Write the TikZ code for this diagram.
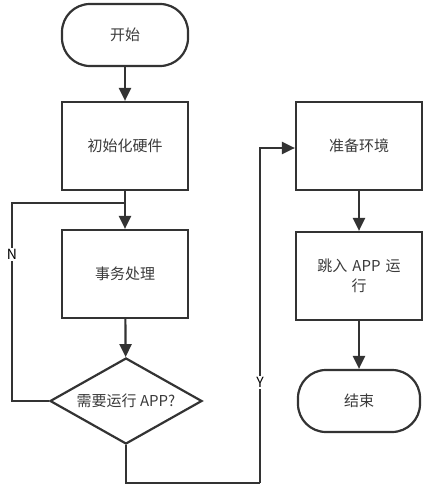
\documentclass[tikz,border=0pt]{standalone}
\usepackage{fontspec}
\setmainfont{Noto Sans CJK SC}
\usetikzlibrary{shapes.geometric,arrows.meta}
\definecolor{ln}{HTML}{333333}
\definecolor{tx}{HTML}{3a3a3a}
\begin{document}
\begin{tikzpicture}[x=1pt,y=-1pt,
  every node/.style={font=\fontsize{15}{20}\selectfont, text=tx},
  box/.style={draw=ln, line width=2.2pt, minimum width=126pt, minimum height=88pt, inner sep=0pt},
  term/.style={draw=ln, line width=2.2pt, rounded corners=28pt, minimum width=126pt, minimum height=62pt, inner sep=0pt},
  dec/.style={draw=ln, line width=2.2pt, diamond, aspect=1.767, minimum width=152pt, minimum height=86pt, inner sep=0pt},
  conn/.style={draw=ln, line width=2.2pt, -{Triangle[length=13pt,width=12pt]}},
  plain/.style={draw=ln, line width=2.2pt},
  lab/.style={fill=white, inner sep=1pt, text=black, font=\fontsize{14}{16}\selectfont}
]
\useasboundingbox (0,0) rectangle (433,495);
\node[term] (start) at (125,35) {开始};
\node[box] (init) at (125,146) {初始化硬件};
\node[box] (work) at (125,274) {事务处理};
\node[dec] (q) at (126,401) {需要运行 APP?};
\node[box] (prep) at (359,146) {准备环境};
\node[box, text width=100pt, align=center] (jump) at (359,276) {跳入 APP 运\\行};
\node[term, minimum width=122pt] (end) at (359,401) {结束};
\coordinate (j) at (125,203);
\coordinate (nl) at (12,401);
\coordinate (nu) at (12,203);
\coordinate (yb) at (126,483);
\coordinate (yr) at (260,483);
\coordinate (yt) at (260,148);
\draw[conn] (start) -- (init);
\draw[conn] (init) -- (work);
\draw[conn] (work) -- (q);
\draw[plain] (q.west) -- (nl) -- node[lab, pos=0.74]{N} (nu) -- (j);
\draw[plain] (q.south) -- (yb) -- (yr);
\draw[conn] (yr) -- node[lab, pos=0.3]{Y} (yt) -- (prep.west |- yt);
\draw[conn] (prep) -- (jump);
\draw[conn] (jump) -- (end);
\end{tikzpicture}
\end{document}
